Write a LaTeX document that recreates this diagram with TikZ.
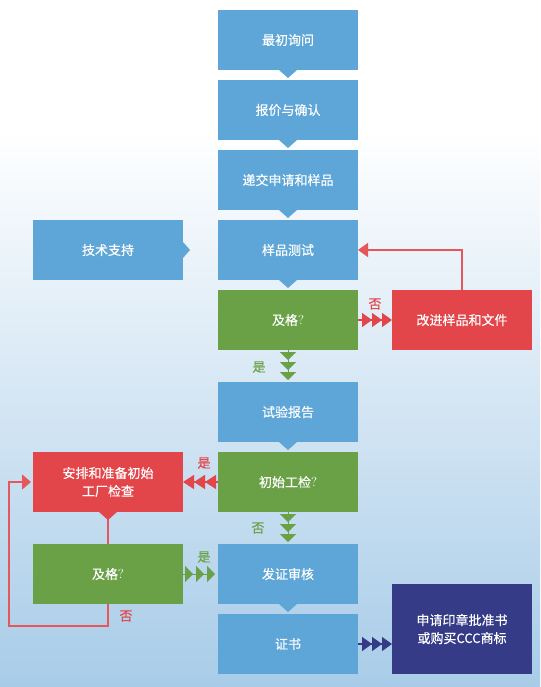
\documentclass[tikz,border=0pt]{standalone}
\usepackage{fontspec}
\newfontfamily\cjk{Noto Sans CJK SC}[FakeBold=0.3]
\usetikzlibrary{positioning,arrows.meta}
\definecolor{boxblue}{HTML}{5EA6D8}
\definecolor{boxgreen}{HTML}{6AA147}
\definecolor{boxred}{HTML}{E2454A}
\definecolor{linered}{HTML}{E6575B}
\definecolor{boxnavy}{HTML}{353B86}
\definecolor{bgbottom}{HTML}{A8CCE8}
\newcommand{\pointdown}[2]{\fill[#2] ([xshift=-9pt]#1.south) -- ([xshift=9pt]#1.south) -- ([yshift=-8pt]#1.south) -- cycle;}

\begin{document}
\begin{tikzpicture}[x=1pt, y=-1pt, node distance=10pt and 35pt,
  every node/.style={font=\cjk\fontsize{13}{18}\selectfont, align=center, inner sep=0pt, outer sep=0pt},
  box/.style={fill=boxblue, text=white, minimum width=140pt, minimum height=60pt},
  check/.style={box, fill=boxgreen},
  fixbox/.style={box, fill=boxred},
  redtxt/.style={text=boxred},
  greentxt/.style={text=boxgreen},
  redline/.style={draw=linered, line width=1.6pt},
  redtri/.style={draw=boxred, fill=boxred, line width=1.5pt,
    -{Triangle[length=#1,width=14pt,sep=0pt] Triangle[length=#1,width=14pt,sep=0pt] Triangle[length=#1,width=14pt,sep=0pt]}},
  greentip/.style={draw=boxgreen, fill=boxgreen, line width=0.1pt, -{Triangle[length=8pt,width=16pt]}}]
\useasboundingbox (0,0) rectangle (540,687);
\fill[white] (0,0) rectangle (540,130);
\shade[top color=white, bottom color=bgbottom] (0,130) rectangle (540,687);
\node[box] (b1) at (288,40) {最初询问};
\node[box, below=of b1] (b2) {报价与确认};
\node[box, below=of b2] (b3) {递交申请和样品};
\node[box, below=of b3] (b4) {样品测试};
\node[check, below=of b4] (q1) {及格{\rmfamily ?}};
\node[box, below=32pt of q1] (b5) {试验报告};
\node[check, below=of b5] (q2) {初始工检{\rmfamily ?}};
\node[box, below=32pt of q2] (b6) {发证审核};
\node[box, below=of b6] (b7) {证书};
\node[box, minimum width=150pt, left=of b4] (ts) {技术支持};
\node[fixbox, right=34pt of q1] (gj) {改进样品和文件};
\node[fixbox, minimum width=150pt, left=of q2] (ap) {安排和准备初始\\工厂检查};
\node[check, minimum width=150pt, left=of b6] (q3) {及格{\rmfamily ?}};
\node[box, fill=boxnavy, minimum height=90pt, right=34pt of b7.south east, anchor=south west] (sq) {申请印章批准书\\或购买CCC商标};
\pointdown{b1}{boxblue} \pointdown{b2}{boxblue} \pointdown{b3}{boxblue} \pointdown{b4}{boxblue}
\pointdown{b5}{boxblue} \pointdown{b6}{boxblue}
\fill[boxblue] ([yshift=8pt]ts.east) -- ([xshift=7pt]ts.east) -- ([yshift=-8pt]ts.east) -- cycle;
\draw[redline] (ap.south) -- (q3.north);
\pointdown{ap}{boxred}
\coordinate (lp) at (9,626);
\draw[redline, -{Triangle[length=9pt,width=15pt]}, shorten >=2pt] (q3.south) |- (lp) |- (ap.west);
\draw[redline, -{Triangle[length=10pt,width=14pt]}] (gj.north) |- (b4.east);
\draw[redtri=10pt] (q1.east) -- (gj.west);
\draw[redtri=11pt] (q2.west) -- (ap.west -| ap.east);
\draw[redtri=10pt, draw=boxnavy, fill=boxnavy] (b7.east) -- (b7.east -| sq.west);
\foreach \s in {2,12,22} {
  \draw[greentip, shorten >=\s pt] (q1.south) -- (b5.north);
  \draw[greentip, shorten >=\s pt] (q2.south) -- (b6.north);
}
\foreach \s in {3,14,25}
  \draw[greentip, shorten >=\s pt] (q3.east) -- (b6.west);
\node[redtxt] (n1) at (375,304) {否};
\node[greentxt] (y1) at (259,367) {是};
\node[redtxt] (y2) at (204,463) {是};
\node[greentxt] (n2) at (258,528) {否};
\node[greentxt] (y3) at (204,557) {是};
\node[redtxt] (n3) at (126,616) {否};
\end{tikzpicture}
\end{document}
